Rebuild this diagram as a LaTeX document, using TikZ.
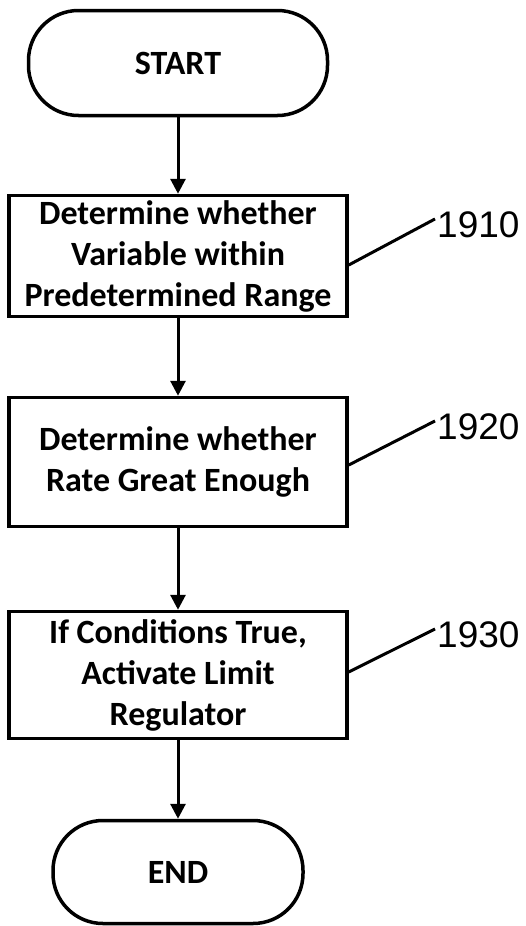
\documentclass[tikz,border=0pt]{standalone}
\usepackage{fontspec}
\setmainfont{Carlito}
\newfontfamily\numfont{Liberation Sans}
\usetikzlibrary{arrows.meta}

\begin{document}
\begin{tikzpicture}[x=1pt,y=-1pt,
    terminal/.style={draw, line width=3.5pt, rounded corners=50pt, minimum width=#1, minimum height=105pt, font=\fontsize{34}{41}\selectfont\bfseries},
    stepbox/.style={draw, line width=3.5pt, minimum width=338pt, minimum height=#1, align=center, inner sep=0pt, font=\fontsize{34}{41}\selectfont\bfseries},
    flow/.style={-{Triangle[length=15pt,width=15pt]}, line width=3pt},
    leader/.style={line width=3pt},
    refnum/.style={anchor=base west, inner sep=0pt, font=\numfont\fontsize{37}{37}\selectfont}]

      \useasboundingbox (0,0) rectangle (526,926);

      \node[terminal=299pt] (start) at (178,63) {START};
      \node[stepbox=121pt] (s1910) at (178,256) {Determine whether\\Variable within\\Predetermined Range};
      \node[stepbox=129pt] (s1920) at (178,462) {Determine whether\\Rate Great Enough};
      \node[stepbox=127pt] (s1930) at (178,675) {If Conditions True,\\Activate Limit\\Regulator};
      \node[terminal=250pt, minimum height=103pt] (end) at (178,872) {END};

      \node[refnum] (n1910) at (437,237) {1910};
      \node[refnum] (n1920) at (437,439) {1920};
      \node[refnum] (n1930) at (437,647) {1930};

      \draw [flow] (start) -- (s1910);
      \draw [flow] (s1910) -- (s1920);
      \draw [flow] (s1920) -- (s1930);
      \draw [flow] (s1930) -- (end);

      \draw [leader] ([yshift=-9pt]s1910.east) -- ([xshift=-2pt,yshift=-8pt]n1910.north west);
      \draw [leader] ([yshift=-3pt]s1920.east) -- ([xshift=-2pt,yshift=-8pt]n1920.north west);
      \draw [leader] ([yshift=3pt]s1930.east) -- ([xshift=-2pt,yshift=-8pt]n1930.north west);

    \end{tikzpicture}
\end{document}
